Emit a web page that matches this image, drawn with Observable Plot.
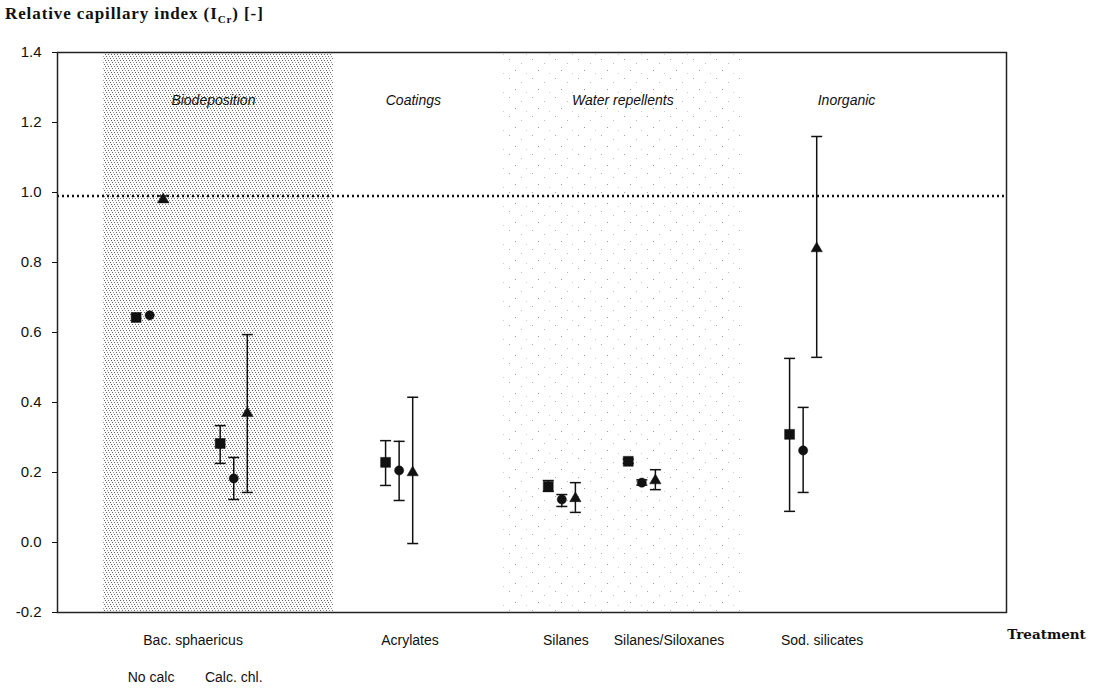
<!DOCTYPE html>
<html><head><meta charset="utf-8">
<script src="https://cdn.jsdelivr.net/npm/d3@7"></script>
<script src="https://cdn.jsdelivr.net/npm/@observablehq/plot@0.6"></script>
<style>
body{margin:0;background:#fff;}
#wrap{position:relative;width:1096px;height:689px;}
#title{position:absolute;left:5px;top:4px;font:bold 17px "Liberation Serif","DejaVu Serif",serif;color:#111;letter-spacing:0.9px;}
#title .sub{font-size:11px;position:relative;top:4px;}
#chart{position:absolute;left:0;top:0;}
</style></head><body>
<div id="wrap"><div id="chart"></div><div id="title">Relative capillary index (I<span class="sub">Cr</span>) [-]</div></div>
<script>
// ---- data ----
const slots = ["Bac. sphaericus (no calc)", "Bac. sphaericus (calc. chl.)", "Acrylates", "Silanes", "Silanes/Siloxanes", "Sod. silicates"];
const slotPos = [6.8, 13.0, 25.2, 37.2, 43.1, 55.0];          // category positions on the treatment axis
const seriesNames = ["A", "B", "C"];
const seriesSymbols = ["square", "circle", "triangle"];
const seriesOffset = [-1, 0, 1];

const meanA = [0.643, 0.283, 0.229, 0.160, 0.232, 0.309];
const loA   = [null, 0.226, 0.163, 0.146, 0.226, 0.089];
const hiA   = [null, 0.334, 0.291, 0.177, 0.238, 0.526];

const meanB = [0.649, 0.183, 0.206, 0.123, 0.171, 0.263];
const loB   = [null, 0.123, 0.120, 0.103, 0.164, 0.143];
const hiB   = [null, 0.243, 0.289, 0.137, 0.179, 0.386];

const meanC = [0.980, 0.369, 0.200, 0.126, 0.177, 0.840];
const loC   = [0.972, 0.143, -0.003, 0.086, 0.151, 0.529];
const hiC   = [0.990, 0.594, 0.415, 0.171, 0.208, 1.160];

const refLevel = 0.99;

const groupNames = ["Biodeposition", "Coatings", "Water repellents", "Inorganic"];
const groupPos = [11.5, 26.25, 41.7, 58.2];

const shadeNames = ["Biodeposition", "Water repellents"];
const shadeFrom = [3.4, 32.7];
const shadeTo = [20.35, 50.7];
const shadeFill = ["url(#dense)", "url(#sparse)"];

const catLabels = ["Bac. sphaericus", "Acrylates", "Silanes", "Silanes/Siloxanes", "Sod. silicates"];
const catPos = [10.0, 26.0, 37.5, 45.1, 56.4];
const subLabels = ["No calc", "Calc. chl."];
const subPos = [6.9, 13.0];

const yTicks = [-0.2, 0.0, 0.2, 0.4, 0.6, 0.8, 1.0, 1.2, 1.4];

// ---- build table ----
const means = [meanA, meanB, meanC], los = [loA, loB, loC], his = [hiA, hiB, hiC];
const rows = [];
seriesNames.forEach((s, si) => {
  slots.forEach((slot, i) => {
    if (means[si][i] == null) return;
    rows.push({series: s, si, slot, x: slotPos[i] + seriesOffset[si], y: means[si][i], lo: los[si][i], hi: his[si][i]});
  });
});
const errRows = rows.filter(d => d.lo != null && d.hi != null);
const shades = shadeNames.map((n, i) => ({name: n, x1: shadeFrom[i], x2: shadeTo[i], fill: shadeFill[i]}));
const groups = groupNames.map((n, i) => ({name: n, x: groupPos[i]}));
const cats = catLabels.map((n, i) => ({name: n, x: catPos[i]}));
const subs = subLabels.map((n, i) => ({name: n, x: subPos[i]}));

const cap = {draw(ctx) { ctx.moveTo(-5.5, 0); ctx.lineTo(5.5, 0); }};
const sizes = {square: 5.6, circle: 4.6, triangle: 4.2};

const marks = [
  Plot.rect(shades, {x1: "x1", x2: "x2", y1: -0.2, y2: 1.4, fill: d => d.fill}),
  Plot.ruleY([refLevel], {stroke: "#111", strokeWidth: 2.4, strokeDasharray: "2,3"}),
  Plot.frame({stroke: "#222", strokeWidth: 1.5}),
  Plot.axisY({ticks: yTicks, tickFormat: d => d.toFixed(1), tickSize: 5, tickPadding: 11, fontSize: 15, label: null}),
  Plot.ruleX(errRows, {x: "x", y1: "lo", y2: "hi", stroke: "#111", strokeWidth: 1.5}),
  Plot.dot(errRows, {x: "x", y: "lo", symbol: cap, stroke: "#111", strokeWidth: 1.5}),
  Plot.dot(errRows, {x: "x", y: "hi", symbol: cap, stroke: "#111", strokeWidth: 1.5}),
  ...seriesNames.map((s, si) => Plot.dot(rows.filter(d => d.si === si), {
    x: "x", y: "y", symbol: seriesSymbols[si], r: sizes[seriesSymbols[si]], fill: "#111", stroke: "#111", strokeWidth: 0.5
  })),
  Plot.text(groups, {x: "x", text: "name", frameAnchor: "top", dy: 43, fontStyle: "italic", fontSize: 14}),
  Plot.text(cats, {x: "x", text: "name", frameAnchor: "bottom", dy: 32, fontSize: 14}),
  Plot.text(subs, {x: "x", text: "name", frameAnchor: "bottom", dy: 69, fontSize: 14}),
  Plot.text(["Treatment"], {frameAnchor: "bottom-right", textAnchor: "middle", dx: 40, dy: 26, fontFamily: "DejaVu Serif", fontWeight: "bold", fontSize: 13.5, letterSpacing: "1.3px"})
];

const chart = Plot.plot({
  width: 1096, height: 689,
  marginTop: 52, marginBottom: 77, marginLeft: 57, marginRight: 90,
  x: {domain: [0, 70], axis: null},
  y: {domain: [-0.2, 1.4]},
  style: {fontFamily: "Liberation Sans, Arial, sans-serif", fontSize: "14px", color: "#111", background: "#fff"},
  marks
});

// halftone patterns for the shaded treatment regions
const svg = d3.select(chart.tagName === "svg" ? chart : chart.querySelector("svg"));
const defs = svg.insert("defs", ":first-child");
const dense = defs.append("pattern").attr("id", "dense").attr("patternUnits", "userSpaceOnUse").attr("width", 6).attr("height", 6);
dense.append("rect").attr("width", 6).attr("height", 6).attr("fill", "#fcfcfc");
[[0,0],[3,0],[1,2],[4,2],[2,4],[5,4]].forEach(([x, y], i) =>
  dense.append("rect").attr("x", x).attr("y", y).attr("width", 1).attr("height", 1).attr("fill", i % 3 === 2 ? "#999" : "#666"));
const sparse = defs.append("pattern").attr("id", "sparse").attr("patternUnits", "userSpaceOnUse").attr("width", 23).attr("height", 19);
[[3,2,"#aaa"],[15,6,"#bbb"],[9,13,"#999"],[20,16,"#ccc"]].forEach(([x, y, c]) =>
  sparse.append("rect").attr("x", x).attr("y", y).attr("width", 1).attr("height", 1).attr("fill", c));

document.getElementById("chart").appendChild(chart);
</script>
</body></html>
